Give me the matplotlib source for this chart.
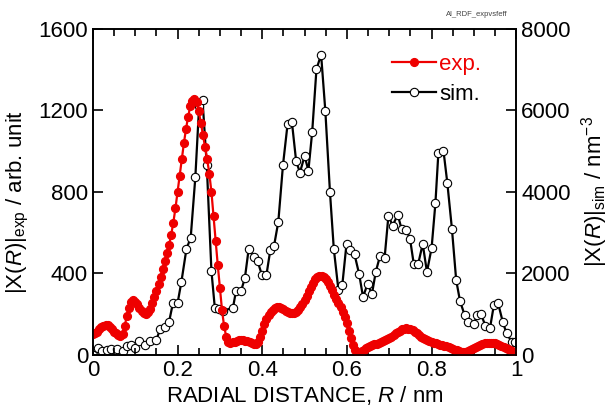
import matplotlib
matplotlib.use("Agg")
import matplotlib.pyplot as plt
import numpy as np
from matplotlib.ticker import MultipleLocator

plt.rcParams['font.family'] = ['Liberation Sans', 'DejaVu Sans']
plt.rcParams['mathtext.fontset'] = 'custom'
plt.rcParams['mathtext.rm'] = 'Liberation Sans'
plt.rcParams['mathtext.it'] = 'Liberation Sans:italic'

# experimental |X(R)| (left axis, arb. unit), sampled every 0.005 nm
r_exp = np.round(np.arange(201) * 0.005, 3)
x_exp = [
    103, 108, 115, 125, 135, 143, 147, 145, 135, 125,
    115, 106, 98, 95, 105, 140, 190, 230, 258, 268,
    262, 248, 230, 215, 205, 202, 210, 228, 255, 285,
    315, 350, 385, 420, 460, 500, 540, 590, 650, 720,
    800, 880, 960, 1040, 1110, 1170, 1220, 1245, 1255, 1240,
    1195, 1140, 1080, 1020, 960, 890, 800, 680, 560, 440,
    330, 220, 140, 90, 62, 58, 62, 66, 70, 72,
    72, 71, 70, 68, 65, 60, 56, 55, 62, 90,
    120, 150, 175, 195, 212, 222, 230, 234, 233, 230,
    225, 218, 212, 208, 206, 207, 212, 222, 235, 250,
    268, 290, 312, 335, 355, 372, 382, 387, 388, 384,
    375, 360, 340, 318, 295, 275, 255, 235, 210, 185,
    155, 120, 85, 50, 22, 10, 12, 18, 25, 32,
    38, 43, 48, 52, 56, 60, 64, 68, 73, 78,
    84, 90, 98, 106, 114, 120, 125, 128, 130, 129,
    126, 121, 114, 106, 98, 90, 83, 77, 72, 67,
    63, 60, 57, 54, 51, 48, 45, 42, 38, 34,
    30, 26, 22, 18, 15, 13, 14, 17, 22, 28,
    34, 40, 46, 50, 54, 57, 59, 60, 60, 59,
    57, 54, 50, 45, 40, 35, 30, 25, 20, 15,
    10,
]

# simulated |X(R)| (right axis, nm^-3)
r_sim = [
    0.0, 0.011, 0.022, 0.034, 0.043, 0.057, 0.071, 0.08, 0.089, 0.1,
    0.11, 0.122, 0.136, 0.15, 0.159, 0.17, 0.18, 0.189, 0.2, 0.209,
    0.221, 0.231, 0.242, 0.251, 0.259, 0.269, 0.28, 0.288, 0.299, 0.308,
    0.331, 0.338, 0.35, 0.359, 0.368, 0.38, 0.389, 0.399, 0.41, 0.419,
    0.428, 0.438, 0.449, 0.46, 0.47, 0.48, 0.489, 0.5, 0.509, 0.518,
    0.528, 0.539, 0.549, 0.56, 0.569, 0.58, 0.589, 0.599, 0.608, 0.618,
    0.629, 0.638, 0.649, 0.659, 0.668, 0.678, 0.689, 0.698, 0.708, 0.72,
    0.729, 0.74, 0.749, 0.758, 0.768, 0.779, 0.789, 0.8, 0.809, 0.816,
    0.828, 0.837, 0.848, 0.858, 0.867, 0.878, 0.887, 0.899, 0.908, 0.917,
    0.927, 0.938, 0.947, 0.957, 0.968, 0.977, 0.989, 0.998,
]
x_sim = [
    0, 160, 105, 120, 145, 145, 106, 228, 252, 171,
    350, 244, 350, 374, 635, 675, 814, 1270, 1270, 1790,
    2604, 2873, 4362, 6120, 6250, 4655, 2059, 1156, 1123, 1082,
    1164, 1571, 1571, 1888, 2604, 2409, 2303, 1969, 1969, 2571,
    2685, 3271, 4663, 5680, 5720, 4760, 4476, 4883, 4525, 5477,
    7007, 7373, 5990, 3988, 2604, 1587, 1709, 2726, 2588, 2466,
    1978, 1424, 1750, 1489, 2035, 2425, 2384, 3418, 3174, 3442,
    3093, 3076, 2849, 2222, 2222, 2726, 2035, 2629, 3727, 4964,
    5013, 4232, 3093, 1839, 1327, 977, 798, 749, 977, 993,
    716, 667, 1221, 1270, 814, 529, 326, 326,
]

fig = plt.figure(figsize=(6.11, 4.08), dpi=100)
ax = fig.add_axes([0.152, 0.13, 0.693, 0.799])
ax2 = ax.twinx()

l2, = ax2.plot(r_sim, x_sim, '-o', color='black', lw=1.6, ms=6,
               mfc='white', mec='black', mew=0.8, label='sim.')
l1, = ax.plot(r_exp, x_exp, '-o', color='#ee0000', lw=1.6, ms=5.6,
              mec='#ee0000', label='exp.')

# experimental curve drawn above the simulated one
ax.set_zorder(ax2.get_zorder() + 1)
ax.patch.set_visible(False)

ax.set_xlim(0, 1)
ax.set_ylim(0, 1600)
ax2.set_ylim(0, 8000)
ax.xaxis.set_minor_locator(MultipleLocator(0.05))
ax.yaxis.set_major_locator(MultipleLocator(400))
ax2.yaxis.set_major_locator(MultipleLocator(2000))
ax.set_xticks([0, 0.2, 0.4, 0.6, 0.8, 1.0])
ax.set_xticklabels(['0', '0.2', '0.4', '0.6', '0.8', '1'])

ax.tick_params(axis='both', which='both', direction='in', top=True,
               labelsize=16, width=1.2)
ax.tick_params(which='major', length=7)
ax.tick_params(which='minor', length=5)
ax.tick_params(axis='y', which='minor', left=False)
ax2.tick_params(axis='y', direction='in', labelsize=16, length=7, width=1.2)
for a in (ax, ax2):
    for s in a.spines.values():
        s.set_linewidth(1.2)

ax.set_xlabel(r'RADIAL DISTANCE, $R$ / nm', fontsize=16, labelpad=2)
ax.set_ylabel(r'|X($R$)|$_{\rm exp}$ / arb. unit', fontsize=16)
ax.yaxis.set_label_coords(-0.145, 0.47)
ax2.set_ylabel(r'|X($R$)|$_{\rm sim}$ / nm$^{-3}$', fontsize=16, labelpad=6)

leg = ax.legend(handles=[l1, l2], loc='upper right', frameon=False,
                fontsize=16, handlelength=2.0, handletextpad=0.15,
                labelspacing=0.4, bbox_to_anchor=(0.965, 0.985))
for txt, c in zip(leg.get_texts(), ['#ee0000', 'black']):
    txt.set_color(c)

fig.text(0.83, 0.955, 'Al_RDF_expvsfeff', fontsize=5.5, color='#444444',
         ha='right', va='bottom')

fig.savefig('out.png', dpi=100)
